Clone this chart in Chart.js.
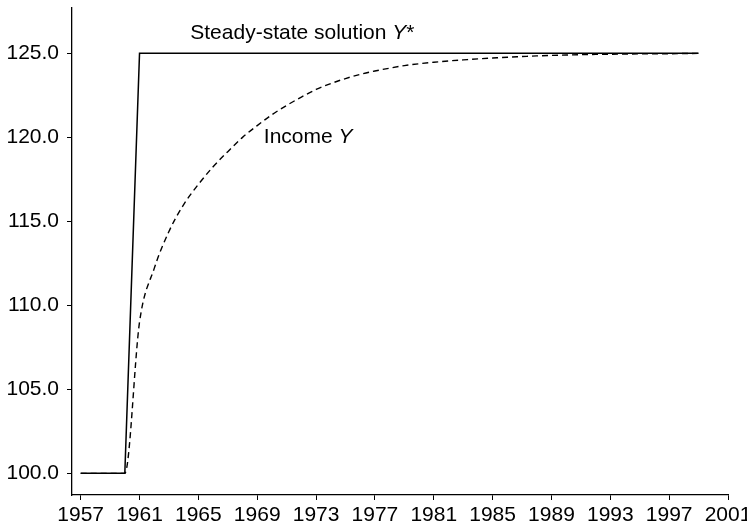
<!DOCTYPE html>
<html>
<head>
<meta charset="utf-8">
<script src="https://cdn.jsdelivr.net/npm/chart.js@4/dist/chart.umd.min.js"></script>
<style>
  html, body { margin: 0; padding: 0; background: #fff; }
  #wrap { width: 747px; height: 527px; }
</style>
</head>
<body>
<div id="wrap"><canvas id="grafico" width="747" height="527"></canvas></div>
<script>
const years = [1957, 1958, 1959, 1960, 1961, 1962, 1963, 1964, 1965, 1966,
  1967, 1968, 1969, 1970, 1971, 1972, 1973, 1974, 1975, 1976,
  1977, 1978, 1979, 1980, 1981, 1982, 1983, 1984, 1985, 1986,
  1987, 1988, 1989, 1990, 1991, 1992, 1993, 1994, 1995, 1996,
  1997, 1998, 1999];

// steady-state solution Y*
const steadyState = [100, 100, 100, 100, 125, 125, 125, 125, 125, 125,
  125, 125, 125, 125, 125, 125, 125, 125, 125, 125,
  125, 125, 125, 125, 125, 125, 125, 125, 125, 125,
  125, 125, 125, 125, 125, 125, 125, 125, 125, 125,
  125, 125, 125];

// income Y
const income = [100, 100, 100, 100, 109.0, 112.2, 114.4, 116.0, 117.2, 118.25,
  119.15, 120.0, 120.7, 121.35, 121.9, 122.4, 122.85, 123.2, 123.5, 123.75,
  123.95, 124.12, 124.27, 124.38, 124.47, 124.55, 124.61, 124.67, 124.72, 124.77,
  124.81, 124.85, 124.88, 124.9, 124.92, 124.94, 124.95, 124.96, 124.97, 124.98,
  124.98, 124.99, 125.0];

const xTicks = [1957, 1961, 1965, 1969, 1973, 1977, 1981, 1985, 1989, 1993, 1997, 2001];
const yTicks = [100, 105, 110, 115, 120, 125];

// labels: [x, y, parts]  (parts: [text, italic])
const etiquetas = [
  { x: 1964.45, y: 125.85, parts: [['Steady-state solution ', false], ['Y', true], ['*', false]] },
  { x: 1969.45, y: 119.66, parts: [['Income ', false], ['Y', true]] }
];

const FONT = '"Liberation Sans", Arial, Helvetica, sans-serif';
Chart.defaults.font.family = FONT;
Chart.defaults.font.size = 21;
Chart.defaults.color = '#000';

const toPoints = (vals) => years.map((yr, i) => ({ x: yr, y: vals[i] }));

const textosPlugin = {
  id: 'textos',
  afterDatasetsDraw(chart) {
    const ctx = chart.ctx;
    const sx = chart.scales.x, sy = chart.scales.y;
    ctx.save();
    ctx.fillStyle = '#000';
    ctx.textBaseline = 'alphabetic';
    ctx.textAlign = 'left';
    etiquetas.forEach(et => {
      let px = sx.getPixelForValue(et.x);
      const py = sy.getPixelForValue(et.y);
      et.parts.forEach(([txt, it]) => {
        ctx.font = (it ? 'italic ' : '') + '21px ' + FONT;
        ctx.fillText(txt, px, py);
        px += ctx.measureText(txt).width;
      });
    });
    ctx.restore();
  }
};

new Chart(document.getElementById('grafico'), {
  type: 'line',
  data: {
    datasets: [{
      label: 'Steady-state solution Y*',
      data: toPoints(steadyState),
      borderColor: '#000',
      borderWidth: 1.5,
      pointRadius: 0,
      tension: 0
    }, {
      label: 'Income Y',
      data: toPoints(income),
      borderColor: '#000',
      borderWidth: 1.4,
      borderDash: [6, 4],
      pointRadius: 0,
      cubicInterpolationMode: 'monotone'
    }]
  },
  options: {
    responsive: false,
    animation: false,
    layout: { padding: { top: 8, right: 19, left: 0, bottom: 0 } },
    plugins: {
      legend: { display: false },
      tooltip: { enabled: false }
    },
    scales: {
      x: {
        type: 'linear',
        bounds: 'data',
        min: 1956.41,
        max: 2001,
        grid: { drawOnChartArea: false, drawTicks: true, tickLength: 5, color: '#000', lineWidth: 1 },
        border: { display: true, color: '#000', width: 1.3 },
        ticks: {
          autoSkip: false,
          maxRotation: 0,
          padding: 3,
          callback: (v) => String(v)
        },
        afterBuildTicks: (s) => { s.ticks = xTicks.map(v => ({ value: v })); },
        afterFit: (s) => { s.height = 32; s.paddingLeft = 0; s.paddingRight = 0; }
      },
      y: {
        type: 'linear',
        bounds: 'data',
        min: 98.71,
        max: 127.7,
        grid: { drawOnChartArea: false, drawTicks: true, tickLength: 5, color: '#000', lineWidth: 1 },
        border: { display: true, color: '#000', width: 1.3 },
        ticks: {
          autoSkip: false,
          padding: 8,
          callback: (v) => Number(v).toFixed(1)
        },
        afterBuildTicks: (s) => { s.ticks = yTicks.map(v => ({ value: v })); },
        afterFit: (s) => { s.width = 72; s.paddingTop = 0; s.paddingBottom = 0; }
      }
    }
  },
  plugins: [textosPlugin]
});
</script>
</body>
</html>
